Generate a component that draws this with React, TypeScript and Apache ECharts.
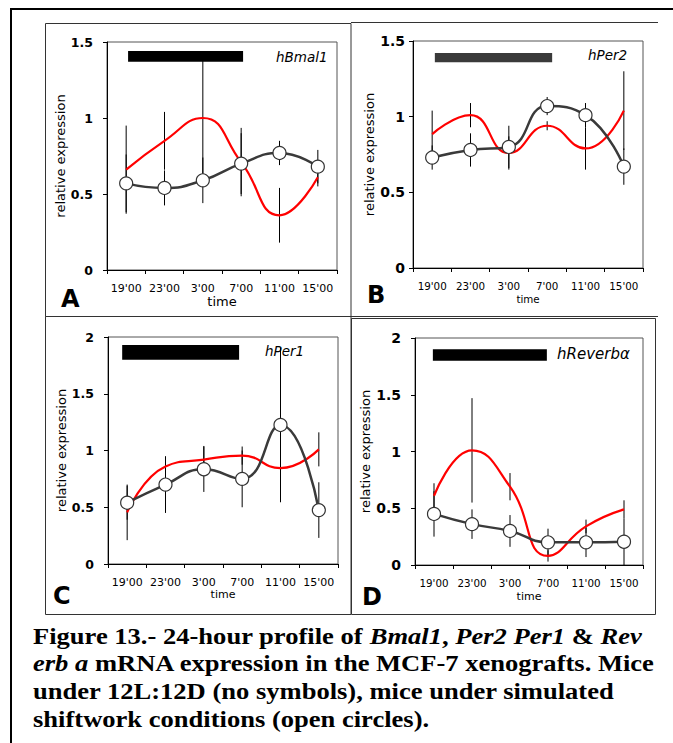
import React, { useEffect, useRef } from "react";
import * as echarts from "echarts";

// ---- data ----
const times = ["19'00", "23'00", "3'00", "7'00", "11'00", "15'00"];
const geneNames = ["hBmal1", "hPer2", "hPer1", "hReverbα"];
const panelLetters = ["A", "B", "C", "D"];
const yMax = [1.5, 1.5, 2, 2];
const yInterval = [0.5, 0.5, 0.5, 0.5];

// shiftwork (open circles)
const bmal1Shift = [0.57, 0.54, 0.59, 0.7, 0.77, 0.68];
const per2Shift = [0.73, 0.78, 0.8, 1.07, 1.01, 0.67];
const per1Shift = [0.54, 0.7, 0.835, 0.75, 1.225, 0.475];
const reverbShift = [0.45, 0.36, 0.3, 0.2, 0.2, 0.205];
const bmal1ShiftErr = [0.19, 0.115, 0.15, 0.2, 0.08, 0.11];
const per2ShiftErr = [0.08, 0.11, 0.14, 0.06, 0.08, 0.12];
const per1ShiftErr = [0.15, 0.25, 0.2, 0.25, 0.68, 0.245];
const reverbShiftErr = [0.2, 0.13, 0.14, 0.12, 0.13, 0.205];

// 12L:12D (no symbols)
const bmal1Ctrl = [0.66, 0.85, 1.0, 0.71, 0.36, 0.61];
const per2Ctrl = [0.885, 1.01, 0.76, 0.94, 0.79, 1.04];
const per1Ctrl = [0.455, 0.86, 0.92, 0.955, 0.845, 1.01];
const reverbCtrl = [0.61, 1.01, 0.69, 0.08, 0.34, 0.49];
const bmal1CtrlErr = [0.29, 0.19, 0.38, 0.225, 0.18, 0.06];
const per2CtrlErr = [0.155, 0.08, 0.11, 0.03, 0.14, 0.26];
const per1CtrlErr = [0.245, 0.08, 0.12, 0.08, 0.3, 0.15];
const reverbCtrlErr = [0.11, 0.46, 0.12, 0.05, 0.06, 0.08];

// dark phase bar (x in category-index units, y in expression units)
const darkStart = [0.05, 0.07, -0.13, -0.03];
const darkEnd = [3.05, 3.13, 2.92, 2.97];
const darkTop = [1.44, 1.42, 1.93, 1.9];
const darkBottom = [1.37, 1.36, 1.8, 1.8];

const shiftSeries = [bmal1Shift, per2Shift, per1Shift, reverbShift];
const shiftErrs = [bmal1ShiftErr, per2ShiftErr, per1ShiftErr, reverbShiftErr];
const ctrlSeries = [bmal1Ctrl, per2Ctrl, per1Ctrl, reverbCtrl];
const ctrlErrs = [bmal1CtrlErr, per2CtrlErr, per1CtrlErr, reverbCtrlErr];

// ---- layout ----
const FONT = "DejaVu Sans";
const layout = [
  { left: 107, top: 42, width: 230, height: 228, lx: 61, ly: 299, gx: 276, gy: 57, gs: 13.5, yf: 12.5, ym: 14, xf: 11, tf: 13, tg: 23, bar: "#000" },
  { left: 413, top: 41, width: 230, height: 227, lx: 367, ly: 295, gx: 588, gy: 55, gs: 13.5, yf: 14, ym: 8, xf: 10.3, tf: 10.3, tg: 26, bar: "#3a3a3a" },
  { left: 108, top: 337, width: 230, height: 227, lx: 53, ly: 596, gx: 265, gy: 351, gs: 13.5, yf: 12.5, ym: 14, xf: 11, tf: 11, tg: 25, bar: "#000" },
  { left: 415, top: 338, width: 228, height: 227, lx: 362, ly: 597, gx: 557, gy: 354, gs: 15, yf: 14, ym: 14, xf: 10.3, tf: 11, tg: 26, bar: "#000" },
];

function buildOption() {
  const grid: any[] = [];
  const xAxis: any[] = [];
  const yAxis: any[] = [];
  const series: any[] = [];
  const graphic: any[] = [];

  layout.forEach((L) => {
    grid.push({
      left: L.left,
      top: L.top,
      width: L.width,
      height: L.height,
      show: true,
      borderColor: "#555",
      borderWidth: 1,
      backgroundColor: "transparent",
    });
  });
  layout.forEach((L, i) => {
    xAxis.push({
      type: "category",
      gridIndex: i,
      data: times,
      boundaryGap: true,
      name: "time",
      nameLocation: "middle",
      nameGap: L.tg,
      nameTextStyle: { fontFamily: FONT, fontSize: L.tf, color: "#000" },
      axisLine: { show: true, onZero: false, lineStyle: { color: "#000", width: 1 } },
      axisTick: { show: true, inside: false, length: 4, alignWithLabel: false, lineStyle: { color: "#000" } },
      axisLabel: { fontFamily: FONT, fontSize: L.xf, color: "#000", margin: 13, interval: 0 },
      splitLine: { show: false },
    });
  });
  layout.forEach((L, i) => {
    xAxis.push({
      type: "value",
      gridIndex: i,
      min: -0.5,
      max: 5.5,
      show: false,
      axisLine: { onZero: false },
    });
  });
  layout.forEach((L, i) => {
    yAxis.push({
      type: "value",
      gridIndex: i,
      min: 0,
      max: yMax[i],
      interval: yInterval[i],
      name: "relative expression",
      nameLocation: "middle",
      nameRotate: 90,
      nameGap: 37,
      nameTextStyle: { fontFamily: FONT, fontSize: 13, color: "#000" },
      axisLine: { show: true, onZero: false, lineStyle: { color: "#000", width: 1 } },
      axisTick: { show: true, inside: false, length: 4, lineStyle: { color: "#000" } },
      axisLabel: { fontFamily: FONT, fontSize: L.yf, fontWeight: "bold", color: "#000", margin: L.ym },
      splitLine: { show: false },
    });
  });

  layout.forEach((L, i) => {
    // dark phase bar
    series.push({
      type: "custom",
      xAxisIndex: 4 + i,
      yAxisIndex: i,
      encode: { x: [0, 1], y: [2, 3] },
      data: [[darkStart[i], darkEnd[i], darkTop[i], darkBottom[i]]],
      renderItem: (params: any, api: any) => {
        const p1 = api.coord([api.value(0), api.value(2)]);
        const p2 = api.coord([api.value(1), api.value(3)]);
        return {
          type: "rect",
          shape: { x: p1[0], y: p1[1], width: p2[0] - p1[0], height: p2[1] - p1[1] },
          style: { fill: L.bar },
        };
      },
      z: 1,
      silent: true,
    });
    // error bars
    const errData: any[] = [];
    shiftSeries[i].forEach((v, k) => errData.push([k, Math.max(0, v - shiftErrs[i][k]), v + shiftErrs[i][k]]));
    ctrlSeries[i].forEach((v, k) => errData.push([k, Math.max(0, v - ctrlErrs[i][k]), v + ctrlErrs[i][k]]));
    series.push({
      type: "custom",
      xAxisIndex: i,
      yAxisIndex: i,
      encode: { x: 0, y: [1, 2] },
      data: errData,
      renderItem: (params: any, api: any) => {
        const x = api.value(0);
        const a = api.coord([x, api.value(1)]);
        const b = api.coord([x, api.value(2)]);
        return {
          type: "line",
          shape: { x1: a[0], y1: a[1], x2: b[0], y2: b[1] },
          style: { stroke: "#000", lineWidth: 1 },
        };
      },
      z: 2,
      silent: true,
    });
    // control (red)
    series.push({
      type: "line",
      xAxisIndex: i,
      yAxisIndex: i,
      data: ctrlSeries[i],
      smooth: 0.5,
      showSymbol: false,
      symbol: "none",
      lineStyle: { color: "#ff0000", width: 2.2 },
      z: 3,
      silent: true,
    });
    // shiftwork (open circles)
    series.push({
      type: "line",
      xAxisIndex: i,
      yAxisIndex: i,
      data: shiftSeries[i],
      smooth: 0.5,
      symbol: "circle",
      symbolSize: 13,
      showSymbol: true,
      lineStyle: { color: "#3a3a3a", width: 2.5 },
      itemStyle: { color: "#fff", borderColor: "#333", borderWidth: 1.2 },
      z: 4,
      silent: true,
    });

    graphic.push({
      type: "text",
      x: L.lx,
      y: L.ly,
      style: {
        text: panelLetters[i],
        fontFamily: FONT,
        fontSize: 24,
        fontWeight: "bold",
        fill: "#000",
        align: "left",
        verticalAlign: "middle",
      },
    });
    graphic.push({
      type: "text",
      x: L.gx,
      y: L.gy,
      style: {
        text: geneNames[i],
        fontFamily: FONT,
        fontSize: L.gs,
        fontStyle: "italic",
        fill: "#000",
        align: "left",
        verticalAlign: "middle",
      },
    });
  });

  // frames
  graphic.push({
    type: "rect",
    shape: { x: 11, y: 9, width: 720, height: 800 },
    style: { fill: "none", stroke: "#000", lineWidth: 2 },
    silent: true,
  });
  graphic.push({
    type: "rect",
    shape: { x: 45.5, y: 23.5, width: 305.5, height: 293 },
    style: { fill: "none", stroke: "#333", lineWidth: 1 },
  });
  graphic.push({
    type: "polyline",
    shape: { points: [[351, 22.5], [658, 22.5]] },
    style: { stroke: "#333", lineWidth: 1, fill: "none" },
  });
  graphic.push({
    type: "polyline",
    shape: { points: [[351, 316.5], [658, 316.5]] },
    style: { stroke: "#333", lineWidth: 1, fill: "none" },
  });
  graphic.push({
    type: "rect",
    shape: { x: 45.5, y: 316.5, width: 305.5, height: 298 },
    style: { fill: "none", stroke: "#333", lineWidth: 1 },
  });
  graphic.push({
    type: "rect",
    shape: { x: 351.5, y: 318.5, width: 304, height: 296 },
    style: { fill: "none", stroke: "#333", lineWidth: 1 },
  });

  // caption
  const cap = {
    fontFamily: "Liberation Serif",
    fontSize: 22.7,
    fontWeight: "bold",
    lineHeight: 27.7,
    fill: "#000",
  };
  graphic.push({
    type: "text",
    x: 33,
    y: 622,
    scaleX: 1.17,
    scaleY: 1,
    style: {
      text:
        "{b|Figure 13.- 24-hour profile of }{i|Bmal1}{b|, }{i|Per2 Per1}{b| & }{i|Rev}\n" +
        "{i|erb a}{b| mRNA expression in the MCF-7 xenografts. Mice}\n" +
        "{b|under 12L:12D (no symbols), mice under simulated}\n" +
        "{b|shiftwork conditions (open circles).}",
      fontFamily: "Liberation Serif",
      fontSize: 22.7,
      fontWeight: "bold",
      lineHeight: 27.7,
      fill: "#000",
      verticalAlign: "top",
      align: "left",
      rich: {
        b: { ...cap },
        i: { ...cap, fontStyle: "italic" },
      },
    },
  });

  return {
    animation: false,
    backgroundColor: "#fff",
    grid,
    xAxis,
    yAxis,
    series,
    graphic,
  };
}

export default function App() {
  const ref = useRef<HTMLDivElement>(null);
  useEffect(() => {
    if (!ref.current) return;
    const chart = echarts.init(ref.current, null, { renderer: "svg", width: 673, height: 743 });
    chart.setOption(buildOption() as any);
    return () => chart.dispose();
  }, []);
  return (
    <div
      ref={ref}
      style={{ position: "absolute", left: 0, top: 0, width: 673, height: 743, background: "#fff" }}
    />
  );
}
